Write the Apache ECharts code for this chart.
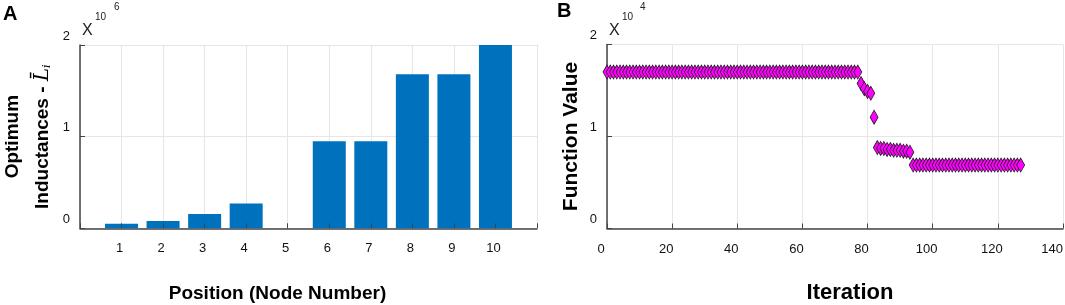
<!DOCTYPE html>
<html>
<head>
<meta charset="utf-8">
<script src="https://cdn.jsdelivr.net/npm/echarts@6/dist/echarts.min.js"></script>
<style>
html,body{margin:0;padding:0;background:#fff;}
#c{width:1065px;height:305px;}
</style>
</head>
<body>
<div id="c"></div>
<script>
// ---- Panel A data ----
const positions = [1, 2, 3, 4, 5, 6, 7, 8, 9, 10];
const inductances = [50000, 80000, 156000, 270000, 0, 950000, 950000, 1680000, 1680000, 2000000];
const yTicksA = [0, 1, 2];          // x 10^6
const expA = '6';

// ---- Panel B data ----
const fnValues = [
  17000, 17000, 17000, 17000, 17000, 17000, 17000, 17000, 17000, 17000,
  17000, 17000, 17000, 17000, 17000, 17000, 17000, 17000, 17000, 17000,
  17000, 17000, 17000, 17000, 17000, 17000, 17000, 17000, 17000, 17000,
  17000, 17000, 17000, 17000, 17000, 17000, 17000, 17000, 17000, 17000,
  17000, 17000, 17000, 17000, 17000, 17000, 17000, 17000, 17000, 17000,
  17000, 17000, 17000, 17000, 17000, 17000, 17000, 17000, 17000, 17000,
  17000, 17000, 17000, 17000, 17000, 17000, 17000, 17000, 17000, 17000,
  17000, 17000, 17000, 17000, 17000, 17000, 17000, 17000,
  15750, 15200, 14900, 14700, 12100,
  8800, 8700, 8700, 8600, 8600, 8500, 8500, 8500, 8400, 8400, 8300,
  6900, 6900, 6900, 6900, 6900, 6900, 6900, 6900, 6900, 6900,
  6900, 6900, 6900, 6900, 6900, 6900, 6900, 6900, 6900, 6900,
  6900, 6900, 6900, 6900, 6900, 6900, 6900, 6900, 6900, 6900,
  6900, 6900, 6900, 6900
];
const iterationTicks = [0, 20, 40, 60, 80, 100, 120, 140];
const yTicksB = [0, 1, 2];          // x 10^4
const expB = '4';

const tickFont = "'Liberation Sans Narrow', 'Liberation Sans', Arial, sans-serif";
const titleFont = "'Liberation Sans', Arial, Helvetica, sans-serif";
const axisCol = '#444';
const gridCol = '#e6e6e6';

const barData = positions.map((p, i) => [p, inductances[i]]);
const scatterData = fnValues.map((v, i) => [i, v]);

const chart = echarts.init(document.getElementById('c'), null, {renderer: 'canvas'});

function yAxisBase(gridIndex, ticks, scale, name, nameGap, nameStyle) {
  return {
    type: 'value', gridIndex: gridIndex,
    min: ticks[0] * scale, max: ticks[ticks.length - 1] * scale, interval: scale,
    axisLine: {show: true, lineStyle: {color: axisCol, width: 1.5}},
    axisTick: {show: true, inside: true, length: 5, lineStyle: {color: axisCol, width: 1}},
    axisLabel: {color: '#111', fontFamily: tickFont, fontSize: 13, margin: 10,
      verticalAlign: 'bottom', lineHeight: 18,
      formatter: v => String(Math.round(v / scale))},
    splitLine: {show: true, lineStyle: {color: gridCol, width: 1}},
    name: name, nameLocation: 'middle', nameRotate: 90, nameGap: nameGap,
    nameTextStyle: nameStyle
  };
}

const option = {
  animation: false,
  backgroundColor: '#fff',
  grid: [
    {left: 80, top: 45, width: 457, height: 183.3, containLabel: false, outerBoundsMode: 'none'},
    {left: 607, top: 44.5, width: 456, height: 184, containLabel: false, outerBoundsMode: 'none'}
  ],
  xAxis: [
    {
      type: 'value', gridIndex: 0, min: 0, max: 11, interval: 1,
      axisLine: {show: true, lineStyle: {color: axisCol, width: 1.5}},
      axisTick: {show: false},
      axisLabel: {color: '#111', fontFamily: tickFont, fontSize: 13, margin: 14,
        padding: [0, 4, 0, 0],
        formatter: v => (v >= positions[0] && v <= positions[positions.length - 1]) ? String(v) : ''},
      splitLine: {show: true, lineStyle: {color: gridCol, width: 1}},
      name: 'Position (Node Number)', nameLocation: 'middle', nameGap: 56,
      nameTextStyle: {fontFamily: titleFont, fontWeight: 'bold', fontSize: 19, color: '#000',
        padding: [0, 62, 0, 0]}
    },
    {
      type: 'value', gridIndex: 0, min: 0, max: 11, interval: 1, position: 'bottom', z: 10,
      axisLine: {show: false},
      axisTick: {show: true, inside: true, length: 5, lineStyle: {color: axisCol, width: 1}},
      axisLabel: {show: false}, splitLine: {show: false}
    },
    {
      type: 'value', gridIndex: 1, min: iterationTicks[0], max: iterationTicks[iterationTicks.length - 1], interval: 20,
      axisLine: {show: true, lineStyle: {color: axisCol, width: 1.5}},
      axisTick: {show: true, inside: true, length: 5, lineStyle: {color: axisCol, width: 1}},
      axisLabel: {color: '#111', fontFamily: tickFont, fontSize: 13, margin: 14,
        alignMaxLabel: 'right',
        formatter: v => v === iterationTicks[iterationTicks.length - 1] ? '{m|' + v + '}' : '{n|' + v + '}',
        rich: {
          n: {fontFamily: tickFont, fontSize: 13, color: '#111', padding: [0, 12, 0, 0]},
          m: {fontFamily: tickFont, fontSize: 13, color: '#111', padding: [0, 0, 0, 0]}
        }},
      splitLine: {show: true, lineStyle: {color: gridCol, width: 1}},
      name: 'Iteration', nameLocation: 'middle', nameGap: 53,
      nameTextStyle: {fontFamily: titleFont, fontWeight: 'bold', fontSize: 22, color: '#000',
        padding: [0, 0, 0, 30]}
    }
  ],
  yAxis: [
    yAxisBase(0, yTicksA, 1e6, 'Optimum\nInductances - {l|L\u0304}{s|i}', 22,
      {fontFamily: titleFont, fontWeight: 'bold', fontSize: 19, color: '#000', lineHeight: 30,
        rich: {
          l: {fontFamily: "'DejaVu Serif', 'Liberation Serif', serif", fontStyle: 'italic', fontWeight: 'normal', fontSize: 20, color: '#000', lineHeight: 30},
          s: {fontFamily: "'DejaVu Serif', 'Liberation Serif', serif", fontStyle: 'italic', fontWeight: 'normal', fontSize: 11, color: '#000', lineHeight: 30, padding: [8, 0, 0, 0]}
        }}),
    yAxisBase(1, yTicksB, 1e4, 'Function Value', 25,
      {fontFamily: titleFont, fontWeight: 'bold', fontSize: 21, color: '#000', lineHeight: 22})
  ],
  series: [
    {
      type: 'bar', xAxisIndex: 0, yAxisIndex: 0, data: barData, barWidth: 33,
      itemStyle: {color: '#0072BD', borderWidth: 0}
    },
    {
      type: 'scatter', xAxisIndex: 2, yAxisIndex: 1, data: scatterData,
      symbol: 'diamond', symbolSize: [8, 14],
      itemStyle: {color: '#FF00FF', borderColor: '#1a1a1a', borderWidth: 0.8, opacity: 1}
    }
  ],
  graphic: [
    {type: 'text', left: 3, top: 4, style: {text: 'A', font: "bold 20px 'Liberation Sans', Arial, sans-serif", fill: '#000'}},
    {type: 'text', left: 557, top: 1, style: {text: 'B', font: "bold 20px 'Liberation Sans', Arial, sans-serif", fill: '#000'}},
    {type: 'text', left: 82, top: 23, style: {text: 'X', font: "16px " + tickFont, fill: '#222'}},
    {type: 'text', left: 95, top: 12, style: {text: '10', font: "10px " + tickFont, fill: '#222'}},
    {type: 'text', left: 114, top: 2, style: {text: expA, font: "10px " + tickFont, fill: '#222'}},
    {type: 'text', left: 609, top: 23, style: {text: 'X', font: "16px " + tickFont, fill: '#222'}},
    {type: 'text', left: 622, top: 12, style: {text: '10', font: "10px " + tickFont, fill: '#222'}},
    {type: 'text', left: 640, top: 2, style: {text: expB, font: "10px " + tickFont, fill: '#222'}}
  ]
};
chart.setOption(option);
</script>
</body>
</html>
